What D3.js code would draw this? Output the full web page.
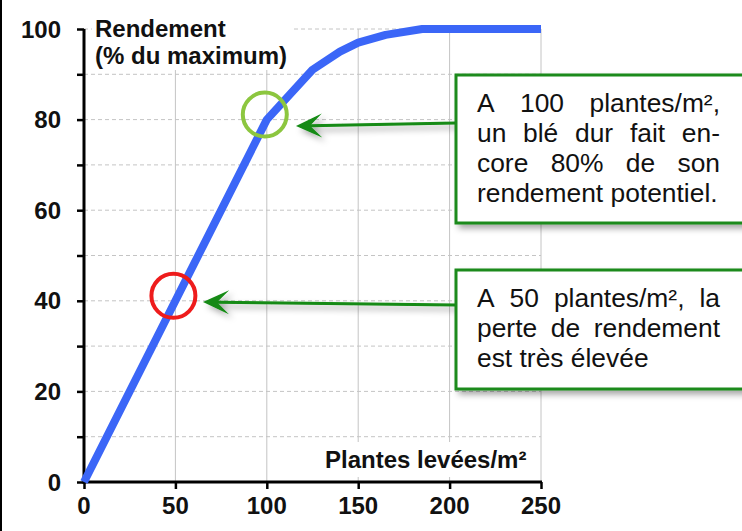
<!DOCTYPE html>
<html><head><meta charset="utf-8">
<script src="https://cdn.jsdelivr.net/npm/d3@7"></script>
<style>
html,body{margin:0;padding:0;background:#fff;}
svg{display:block;}
text{font-family:"Liberation Sans",Arial,sans-serif;}
</style></head>
<body>
<svg id="chart" width="742" height="531"></svg>
<script>
// ---- data ----
const plantsX = [0, 50, 100, 125, 140, 150, 165, 185, 250];
const yieldY  = [0, 40, 80, 91, 95, 97, 98.7, 100, 100];
const xTicks = [0, 50, 100, 150, 200, 250];
const yTickLabels = [0, 20, 40, 60, 80, 100];
const yMinorTicks = [0, 10, 20, 30, 40, 50, 60, 70, 80, 90, 100];
const yTitle = ["Rendement", "(% du maximum)"];
const xTitle = "Plantes levées/m²";
const highlights = [{x: 50, y: 40, color: "#ee1c1c"}, {x: 100, y: 80, color: "#8cc63f"}];
const note1 = ["A 100 plantes/m²,", "un blé dur fait en-", "core 80% de son", "rendement potentiel."];
const note2 = ["A 50 plantes/m², la", "perte de rendement", "est très élevée"];

const svg = d3.select("#chart");
const defs = svg.append("defs");
const f = defs.append("filter").attr("id","shadow").attr("x","-20%").attr("y","-20%").attr("width","140%").attr("height","160%");
f.append("feDropShadow").attr("dx",4).attr("dy",4).attr("stdDeviation",3).attr("flood-color","#000").attr("flood-opacity",0.35);

const x = d3.scaleLinear().domain([0,250]).range([84,541]);
const y = d3.scaleLinear().domain([0,100]).range([482,29]);

// left frame line
svg.append("line").attr("x1",1).attr("x2",1).attr("y1",0).attr("y2",531).attr("stroke","#000").attr("stroke-width",2);

// grid
svg.append("g").selectAll("line").data(yMinorTicks.filter(d=>d>0)).join("line")
  .attr("x1",x(0)).attr("x2",x(250)).attr("y1",d=>y(d)).attr("y2",d=>y(d))
  .attr("stroke","#c4c4c4").attr("stroke-width",1).attr("stroke-dasharray","4,3");
svg.append("g").selectAll("line").data(xTicks.filter(d=>d>0)).join("line")
  .attr("x1",d=>x(d)).attr("x2",d=>x(d)).attr("y1",y(100)).attr("y2",y(0))
  .attr("stroke","#c4c4c4").attr("stroke-width",1);

// axis title backgrounds + titles
svg.append("rect").attr("x",92).attr("y",10).attr("width",200).attr("height",60).attr("fill","#fff");
const yt = svg.append("text").attr("font-weight","bold").attr("font-size",24).attr("fill","#111");
yt.append("tspan").attr("x",95).attr("y",37).text(yTitle[0]);
yt.append("tspan").attr("x",95).attr("y",64).text(yTitle[1]);
svg.append("rect").attr("x",313).attr("y",442).attr("width",218).attr("height",35).attr("fill","#fff");
svg.append("text").attr("x",325).attr("y",468).attr("font-weight","bold").attr("font-size",24).attr("fill","#111").text(xTitle);

// axes (d3 axes for ticks, reinforced black lines)
const yAxis = svg.append("g").attr("transform",`translate(${x(0)},0)`)
  .call(d3.axisLeft(y).tickValues(yMinorTicks).tickSize(7).tickSizeOuter(0).tickFormat(""));
const xAxis = svg.append("g").attr("transform",`translate(0,${y(0)})`)
  .call(d3.axisBottom(x).tickValues(xTicks).tickSize(7).tickSizeOuter(0).tickFormat(""));
[yAxis,xAxis].forEach(g=>{
  g.select(".domain").remove();
  g.selectAll(".tick line").attr("stroke","#000").attr("stroke-width",2.5);
});
svg.append("line").attr("x1",x(0)).attr("x2",x(0)).attr("y1",y(0)+1.5).attr("y2",y(100))
  .attr("stroke","#000").attr("stroke-width",3);
svg.append("line").attr("x1",x(0)-1.5).attr("x2",x(250)+1).attr("y1",y(0)).attr("y2",y(0))
  .attr("stroke","#000").attr("stroke-width",3);

svg.append("g").selectAll("text").data(yTickLabels).join("text")
  .attr("x",61).attr("y",d=>y(d)).attr("dy","0.36em").attr("text-anchor","end")
  .attr("font-weight","bold").attr("font-size",24).attr("fill","#111").text(d=>d);
svg.append("g").selectAll("text").data(xTicks).join("text")
  .attr("x",d=>x(d)).attr("y",514).attr("text-anchor","middle")
  .attr("font-weight","bold").attr("font-size",24).attr("fill","#111").text(d=>d);

// curve
const pts = plantsX.map((v,i)=>[v,yieldY[i]]);
svg.append("path").datum(pts)
  .attr("d", d3.line().x(d=>x(d[0])).y(d=>y(d[1])))
  .attr("fill","none").attr("stroke","#3b66f7").attr("stroke-width",8).attr("stroke-linejoin","round");

// circles
svg.append("g").selectAll("circle").data(highlights).join("circle")
  .attr("cx",d=>x(d.x)-2).attr("cy",d=>y(d.y)-5).attr("r",22)
  .attr("fill","none").attr("stroke",d=>d.color).attr("stroke-width",4);

// arrows
function arrow(x1,y1,x2,y2){
  const g = svg.append("g").attr("filter","url(#shadow)");
  const ang = Math.atan2(y2-y1,x2-x1);
  const L=26, W=12, notch=14;
  const ux=Math.cos(ang), uy=Math.sin(ang), px=-uy, py=ux;
  const bx=x2-ux*L, by=y2-uy*L;
  const nx=x2-ux*notch, ny=y2-uy*notch;
  g.append("line").attr("x1",x1).attr("y1",y1).attr("x2",nx).attr("y2",ny)
    .attr("stroke","#138a13").attr("stroke-width",3);
  g.append("path").attr("d",`M${x2},${y2}L${bx+px*W},${by+py*W}L${nx},${ny}L${bx-px*W},${by-py*W}Z`)
    .attr("fill","#138a13");
}
arrow(456,123,296,126);
arrow(456,305,203,302);

// note boxes
function note(bx,by,bw,bh,lines,tx,tw,base0){
  const g = svg.append("g");
  g.append("rect").attr("x",bx).attr("y",by).attr("width",bw).attr("height",bh)
    .attr("fill","#fff").attr("stroke","#1a8a1a").attr("stroke-width",3).attr("filter","url(#shadow)");
  lines.forEach((ln,i)=>{
    const words = ln.split(" ");
    const yy = base0 + i*30;
    const justify = i < lines.length-1 && words.length>1;
    const ts = words.map(w=>g.append("text").attr("y",yy).attr("font-size",26.4).attr("fill","#111").text(w));
    const widths = ts.map(t=>t.node().getComputedTextLength());
    const sum = d3.sum(widths);
    const gap = justify ? (tw-sum)/(words.length-1) : 7.3;
    let cx = tx;
    ts.forEach((t,k)=>{ t.attr("x",cx); cx += widths[k]+gap; });
  });
}
note(456,75,290,148,note1,477,243,112);
note(456,270,290,119,note2,477,243,307);
</script>
</body></html>
